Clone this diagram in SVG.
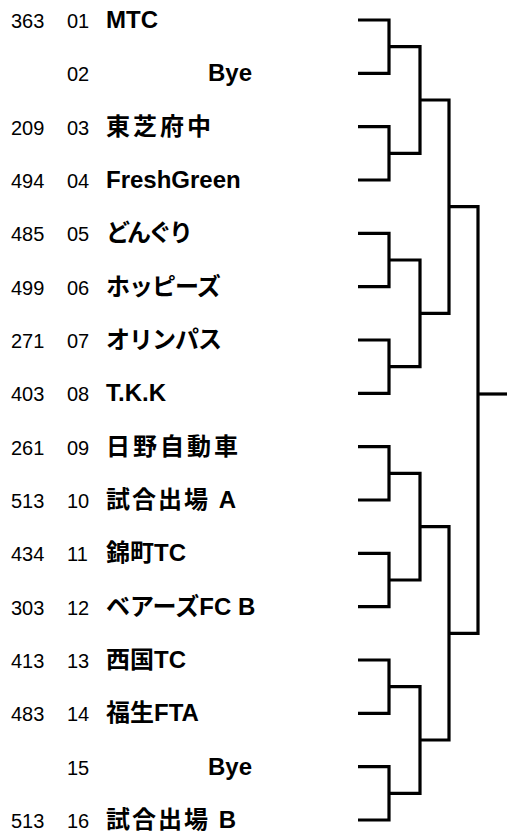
<svg xmlns="http://www.w3.org/2000/svg" width="507" height="832" viewBox="0 0 507 832">
<style>
.seed{font-family:"Liberation Sans","Noto Sans CJK JP",sans-serif;font-size:20px;fill:#000}
.num{font-family:"Liberation Sans","Noto Sans CJK JP",sans-serif;font-size:20px;fill:#000}
.name{font-family:"Liberation Sans","Noto Sans CJK JP",sans-serif;font-size:24px;font-weight:bold;fill:#000}
.cjk{letter-spacing:3px}
.cjk2{letter-spacing:2px}
.kana{letter-spacing:-1px}
.kana2{letter-spacing:-3px}
.ln{fill:none;stroke:#000;stroke-width:3.2;stroke-linejoin:miter;stroke-linecap:butt}
</style>
<rect width="507" height="832" fill="#fff"/>
<g id="entries">
<g id="e01"><text class="seed" x="11" y="28">363</text><text class="num" x="67" y="28">01</text><text class="name" x="106" y="28">MTC</text></g>
<g id="e02"><text class="num" x="67" y="81">02</text><text class="name" x="208" y="81">Bye</text></g>
<g id="e03"><text class="seed" x="11" y="135">209</text><text class="num" x="67" y="135">03</text><text class="name cjk" x="106" y="135">東芝府中</text></g>
<g id="e04"><text class="seed" x="11" y="188">494</text><text class="num" x="67" y="188">04</text><text class="name" x="106" y="188">FreshGreen</text></g>
<g id="e05"><text class="seed" x="11" y="241">485</text><text class="num" x="67" y="241">05</text><text class="name kana2" x="106" y="241">どんぐり</text></g>
<g id="e06"><text class="seed" x="11" y="295">499</text><text class="num" x="67" y="295">06</text><text class="name kana" x="106" y="295">ホッピーズ</text></g>
<g id="e07"><text class="seed" x="11" y="348">271</text><text class="num" x="67" y="348">07</text><text class="name kana" x="106" y="348">オリンパス</text></g>
<g id="e08"><text class="seed" x="11" y="401">403</text><text class="num" x="67" y="401">08</text><text class="name" x="106" y="401">T.K.K</text></g>
<g id="e09"><text class="seed" x="11" y="455">261</text><text class="num" x="67" y="455">09</text><text class="name cjk" x="106" y="455">日野自動車</text></g>
<g id="e10"><text class="seed" x="11" y="508">513</text><text class="num" x="67" y="508">10</text><text class="name cjk2" x="106" y="508">試合出場 A</text></g>
<g id="e11"><text class="seed" x="11" y="561">434</text><text class="num" x="67" y="561">11</text><text class="name" x="106" y="561">錦町TC</text></g>
<g id="e12"><text class="seed" x="11" y="615">303</text><text class="num" x="67" y="615">12</text><text class="name" x="106" y="615">ベアーズFC B</text></g>
<g id="e13"><text class="seed" x="11" y="668">413</text><text class="num" x="67" y="668">13</text><text class="name" x="106" y="668">西国TC</text></g>
<g id="e14"><text class="seed" x="11" y="721">483</text><text class="num" x="67" y="721">14</text><text class="name" x="106" y="721">福生FTA</text></g>
<g id="e15"><text class="num" x="67" y="775">15</text><text class="name" x="208" y="775">Bye</text></g>
<g id="e16"><text class="seed" x="11" y="828">513</text><text class="num" x="67" y="828">16</text><text class="name cjk2" x="106" y="828">試合出場 B</text></g>
</g>
<g id="connectors">
<path class="ln" d="M358,20 H389 V73.3 H358"/>
<path class="ln" d="M358,126.7 H389 V180 H358"/>
<path class="ln" d="M358,233.3 H389 V286.7 H358"/>
<path class="ln" d="M358,340 H389 V393.3 H358"/>
<path class="ln" d="M358,446.7 H389 V500 H358"/>
<path class="ln" d="M358,553.3 H389 V606.7 H358"/>
<path class="ln" d="M358,660 H389 V713.3 H358"/>
<path class="ln" d="M358,766.7 H389 V820 H358"/>
<path class="ln" d="M389,46.7 H420 V153.3 H389"/>
<path class="ln" d="M389,260 H420 V366.7 H389"/>
<path class="ln" d="M389,473.3 H420 V580 H389"/>
<path class="ln" d="M389,686.7 H420 V793.3 H389"/>
<path class="ln" d="M420,100 H449 V313.3 H420"/>
<path class="ln" d="M420,526.7 H449 V740 H420"/>
<path class="ln" d="M449,206.7 H478 V633.3 H449"/>
<path class="ln" d="M478,394 H507"/>
</g>
</svg>
